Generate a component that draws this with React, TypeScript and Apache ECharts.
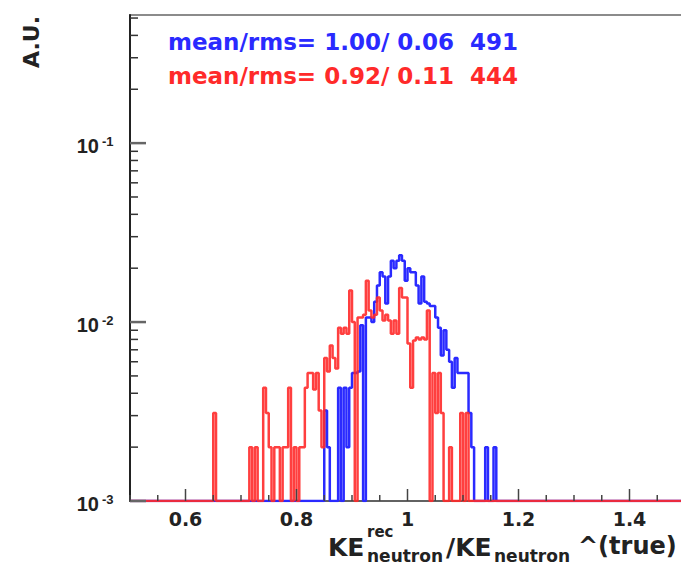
import React, { useEffect, useRef } from "react";
import * as echarts from "echarts";

// Histogram binning (ratio axis)
const X_MIN = 0.5;
const X_MAX = 1.5;
const BIN_WIDTH = 0.005;
const Y_MIN = 0.001;
const Y_MAX = 0.52;

// Blue histogram: bin contents in units of 1e-3, first bin starts at BLUE_START
const BLUE_START = 0.85;
const BLUE_PERMILLE = [
  3.2, 2.0, 0, 0, 0, 4.3, 0, 4.3, 2.0, 4.3,
  5.2, 5.2, 5.3, 9.6, 0, 10.6, 10.6, 10.0, 13, 16,
  19, 18, 12.7, 18, 22, 20, 22, 23.6, 22, 17,
  20, 19, 19, 16, 12.7, 18, 13, 12.7, 12.3, 12.3,
  10.6, 9.3, 6.5, 9.0, 7.0, 6.0, 4.3, 6.3, 5.2, 5.2,
  5.2, 5.2, 3.1, 2.0, 0, 0, 0, 0, 2.0, 0,
  0, 2.0,
];

// Red histogram: bin contents in units of 1e-3, first bin starts at RED_START
const RED_START = 0.65;
const RED_PERMILLE = [
  3.1, 0, 0, 0, 0, 0, 0, 0, 0, 0,
  0, 0, 0, 2.0, 0, 2.0, 0, 0, 4.3, 3.1,
  2.0, 0, 2.0, 2.0, 0, 2.0, 2.0, 4.3, 0, 2.0,
  0, 2.0, 2.0, 4.3, 5.2, 5.2, 4.2, 5.2, 3.2, 2.0,
  6.3, 5.3, 7.4, 6.3, 5.5, 9.3, 8.6, 9.3, 8.6, 15,
  10, 0, 10.6, 10.6, 11, 17, 11.6, 10.6, 11, 13.7,
  11.6, 10.2, 11.0, 10.2, 8.6, 10.2, 8.6, 15.5, 13.7, 13.7,
  7.6, 4.3, 7.9, 8.2, 8.0, 8.2, 8.0, 11.6, 0, 5.2,
  3.1, 5.2, 3.1, 0, 0, 2.0, 0, 0, 0, 3.1,
  0, 3.1, 0,
];

// Decade labels on the log axis (exponents of 10)
const Y_EXPONENTS = [-3, -2, -1];

const BLUE_LABEL = "mean/rms= 1.00/ 0.06  491";
const RED_LABEL = "mean/rms= 0.92/ 0.11  444";
const Y_TITLE = "A.U.";

const BLUE = "#2a2aff";
const RED = "#ff2a2a";
const FONT = "DejaVu Sans";
const TICK_FONT = "Liberation Sans";

function buildHist(start: number, permille: number[]): number[][] {
  const nBins = Math.round((X_MAX - X_MIN) / BIN_WIDTH);
  const pts: number[][] = [];
  let last = Y_MIN;
  for (let k = 0; k < nBins; k++) {
    const x = +(X_MIN + k * BIN_WIDTH).toFixed(4);
    const idx = Math.round((x - start) / BIN_WIDTH);
    const v = idx >= 0 && idx < permille.length ? permille[idx] : 0;
    const y = v > 0 ? v * 1e-3 : Y_MIN;
    pts.push([x, y]);
    last = y;
  }
  pts.push([X_MAX, last]);
  return pts;
}

function titleText(text: string, x: number, y: number, size: number) {
  return {
    type: "text",
    x,
    y,
    style: {
      text,
      fill: "#222",
      fontFamily: FONT,
      fontWeight: "bold",
      fontSize: size,
      align: "left",
      verticalAlign: "middle",
    },
  };
}

export default function App() {
  const ref = useRef<HTMLDivElement>(null);
  useEffect(() => {
    if (!ref.current) return;
    const chart = echarts.init(ref.current, null, { renderer: "svg" });

    const yTicks: number[][] = [];
    for (let d = -3; d <= 0; d++) {
      for (let m = 1; m <= 9; m++) {
        const v = m * Math.pow(10, d);
        if (v < Y_MIN - 1e-12 || v > Y_MAX) continue;
        yTicks.push([X_MIN, v, m === 1 ? 16 : 8]);
      }
    }
    const xTicks: number[][] = [];
    for (let k = 0; k <= 20; k++) {
      const v = +(X_MIN + k * 0.05).toFixed(3);
      const major = Math.abs(v * 5 - Math.round(v * 5)) < 1e-6;
      xTicks.push([v, Y_MIN, major ? 12 : 6]);
    }
    const yLabels = Y_EXPONENTS.map((e) => [X_MIN, Math.pow(10, e), e]);

    chart.setOption({
      animation: false,
      grid: {
        left: 130,
        top: 15,
        right: -4,
        bottom: 67,
        show: true,
        borderColor: "#666",
        borderWidth: 1.5,
        outerBoundsMode: "none",
      },
      xAxis: {
        type: "value",
        min: X_MIN,
        max: X_MAX,
        interval: 0.05,
        axisLine: { show: true, lineStyle: { color: "#555", width: 1.5 } },
        axisTick: { show: false },
        splitLine: { show: false },
        axisLabel: {
          margin: 8,
          color: "#222",
          fontFamily: FONT,
          fontWeight: "bold",
          fontSize: 19,
          formatter: (v: number) => {
            const r = Math.round(v * 100) / 100;
            if (Math.abs(r * 5 - Math.round(r * 5)) > 1e-6) return "";
            return String(r);
          },
        },
      },
      yAxis: {
        type: "log",
        logBase: 10,
        min: Y_MIN,
        max: Y_MAX,
        axisLine: { show: true, lineStyle: { color: "#222", width: 2 } },
        axisTick: { show: false },
        splitLine: { show: false },
        axisLabel: { show: false },
      },
      series: [
        {
          type: "line",
          name: "blue",
          step: "end",
          symbol: "none",
          data: buildHist(BLUE_START, BLUE_PERMILLE),
          lineStyle: { color: BLUE, width: 2.5 },
          clip: true,
          z: 2,
        },
        {
          type: "line",
          name: "red",
          step: "end",
          symbol: "none",
          data: buildHist(RED_START, RED_PERMILLE),
          lineStyle: { color: RED, width: 2.5, opacity: 0.9 },
          clip: true,
          z: 3,
        },
        {
          type: "custom",
          name: "yticks",
          data: yTicks,
          z: 4,
          renderItem: (params: any, api: any) => {
            const p = api.coord([api.value(0), api.value(1)]);
            const len = api.value(2);
            return {
              type: "line",
              shape: { x1: p[0], y1: p[1], x2: p[0] + len, y2: p[1] },
              style: { stroke: len > 10 ? "#666" : "#333", lineWidth: len > 10 ? 2.5 : 1.5 },
            };
          },
        },
        {
          type: "custom",
          name: "xticks",
          data: xTicks,
          z: 4,
          renderItem: (params: any, api: any) => {
            const p = api.coord([api.value(0), api.value(1)]);
            const len = api.value(2);
            return {
              type: "line",
              shape: { x1: p[0], y1: p[1], x2: p[0], y2: p[1] - len },
              style: { stroke: "#444", lineWidth: 1.5 },
            };
          },
        },
        {
          type: "custom",
          name: "ylabels",
          data: yLabels,
          z: 5,
          clip: false,
          renderItem: (params: any, api: any) => {
            const p = api.coord([api.value(0), api.value(1)]);
            const e = api.value(2);
            return {
              type: "group",
              children: [
                {
                  type: "text",
                  x: p[0] - 31,
                  y: p[1] + 3,
                  style: {
                    text: "10",
                    fill: "#222",
                    fontFamily: TICK_FONT,
                    fontWeight: "bold",
                    fontSize: 20,
                    align: "right",
                    verticalAlign: "middle",
                  },
                },
                {
                  type: "text",
                  x: p[0] - 28,
                  y: p[1] - 2,
                  style: {
                    text: String(e),
                    fill: "#222",
                    fontFamily: TICK_FONT,
                    fontWeight: "bold",
                    fontSize: 13,
                    align: "left",
                    verticalAlign: "middle",
                  },
                },
              ],
            };
          },
        },
      ],
      graphic: [
        {
          type: "text",
          x: 31,
          y: 42,
          rotation: Math.PI / 2,
          style: {
            text: Y_TITLE,
            fill: "#222",
            fontFamily: FONT,
            fontWeight: "bold",
            fontSize: 22,
            align: "center",
            verticalAlign: "middle",
          },
        },
        {
          type: "text",
          x: 168,
          y: 42,
          style: {
            text: BLUE_LABEL,
            fill: BLUE,
            fontFamily: FONT,
            fontWeight: "bold",
            fontSize: 23,
            align: "left",
            verticalAlign: "middle",
          },
        },
        {
          type: "text",
          x: 168,
          y: 76,
          style: {
            text: RED_LABEL,
            fill: RED,
            fontFamily: FONT,
            fontWeight: "bold",
            fontSize: 23,
            align: "left",
            verticalAlign: "middle",
          },
        },
        titleText("KE", 328, 547, 25),
        titleText("rec", 367, 532, 15),
        titleText("neutron", 367, 556, 17),
        titleText("/KE", 446, 547, 25),
        titleText("neutron", 494, 556, 17),
        titleText("^(true)", 578, 546, 24),
      ],
    });
    return () => chart.dispose();
  }, []);
  return (
    <div
      ref={ref}
      style={{ position: "absolute", left: 0, top: 0, width: 681, height: 568, background: "#fff" }}
    />
  );
}
